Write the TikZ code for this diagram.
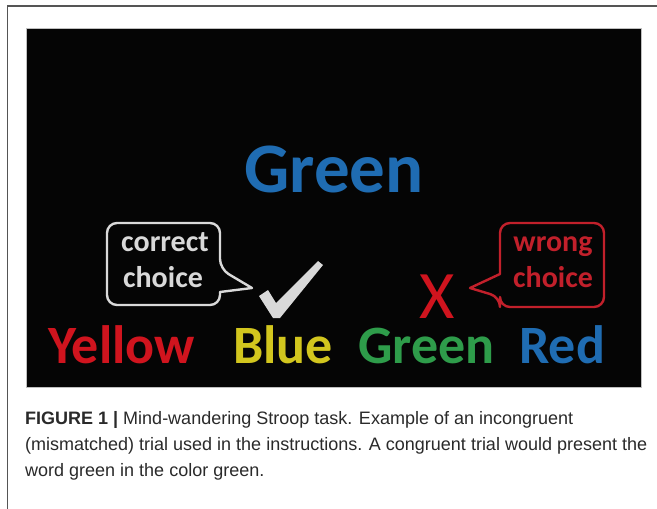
\documentclass[tikz,border=0pt]{standalone}
\usepackage{fontspec}
\setmainfont{Liberation Sans}
\newfontfamily\slidefont{Carlito}
\usetikzlibrary{calc}

\definecolor{stroopred}{HTML}{D0141E}
\definecolor{stroopyellow}{HTML}{D2C61E}
\definecolor{stroopgreen}{HTML}{2E9C4A}
\definecolor{stroopblue}{HTML}{1F6CB2}
\definecolor{bubblegray}{HTML}{D9D9D9}
\definecolor{bubblered}{HTML}{C2202B}
\definecolor{framegray}{HTML}{555555}
\definecolor{captiongray}{HTML}{2A2A2A}

\tikzset{
  bigword/.style={font=\slidefont\bfseries\fontsize{54}{54}\selectfont, inner sep=0pt, anchor=base west},
  bubbletext/.style={font=\slidefont\bfseries\fontsize{30}{30}\selectfont, inner sep=0pt, anchor=base},
  bubble/.style={line width=2.4pt, line join=round},
  captionline/.style={font=\fontsize{18}{18}\selectfont, text=captiongray, inner sep=0pt, anchor=base west},
}

\begin{document}
\begin{tikzpicture}[x=1pt, y=-1pt]
  \useasboundingbox (0,0) rectangle (657,509);
  \fill[white] (0,0) rectangle (657,509);

  % page frame (left and top rules)
  \draw[framegray, line width=1.3pt] (7.5,509) -- (7.5,6) -- (657,6);

  % slide background
  \fill[black!98, draw=black!25, line width=0.8pt] (26,28) rectangle (641,387);

  % stimulus word
  \node[font=\slidefont\bfseries\fontsize{71}{71}\selectfont, text=stroopblue, inner sep=0pt, anchor=base]
    (stim) at (334,192) {Green};

  % response options
  \node[bigword, text=stroopred]    (yellow) at (48,363)  {Yellow};
  \node[bigword, text=stroopyellow] (blue)   at (233,363) {Blue};
  \node[bigword, text=stroopgreen]  (green)  at (358,363) {Green};
  \node[bigword, text=stroopblue]   (red)    at (519,363) {Red};

  % "correct choice" speech bubble
  \draw[bubble, bubblegray, rounded corners=10pt]
    (160,223) -- (220,223) -- (220,269) [sharp corners] -- (252,288) -- (220,292)
    [rounded corners=10pt] -- (220,305) -- (107,305) -- (107,223) -- cycle;
  \node[bubbletext, text=bubblegray] (correct1) at (165,251) {correct};
  \node[bubbletext, text=bubblegray] (correct2) at (163,287) {choice};

  % check mark
  \fill[bubblegray] (259,296) -- (268,290) -- (276,303) -- (318,261) -- (323,265)
    -- (280,318) -- (273,318) -- cycle;

  % "wrong choice" speech bubble
  \draw[bubble, bubblered, rounded corners=10pt]
    (550,223) -- (604,223) -- (604,307) -- (500,307) -- (500,297) [sharp corners]
    -- (470,288) -- (500,274) [rounded corners=10pt] -- (500,223) -- cycle;
  \node[bubbletext, text=bubblered] (wrong1) at (553,251) {wrong};
  \node[bubbletext, text=bubblered] (wrong2) at (553,287) {choice};

  % cross
  \node[font=\slidefont\fontsize{68}{68}\selectfont, text=stroopred, inner sep=0pt,
        text depth=0pt, anchor=base] (cross) at (437,318) {X};

  % caption
  \node[captionline] (cap1) at (25,424) {\textbf{FIGURE 1 |} Mind-wandering Stroop task. Example of an incongruent};
  \node[captionline] (cap2) at (25,450) {(mismatched) trial used in the instructions. A congruent trial would present the};
  \node[captionline] (cap3) at (25,476) {word green in the color green.};
\end{tikzpicture}
\end{document}
